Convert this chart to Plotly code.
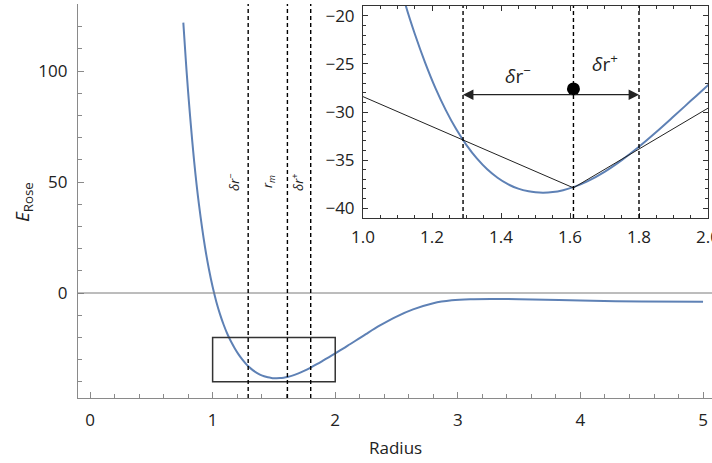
import plotly.graph_objects as go

# Rose energy curve E(r), sampled along the radius
radius = [0.761, 0.78, 0.80, 0.85, 0.889, 0.938, 0.97, 1.00, 1.03, 1.06, 1.09, 1.124,
          1.15, 1.18, 1.21, 1.24, 1.27, 1.30, 1.33, 1.36, 1.39, 1.42, 1.45, 1.48, 1.50,
          1.522, 1.55, 1.58, 1.61, 1.65, 1.70, 1.75, 1.80, 1.85, 1.90, 1.95, 2.00, 2.06,
          2.12, 2.25, 2.365, 2.50, 2.635, 2.80, 2.95, 3.10, 3.30, 3.50, 4.00, 4.50, 5.00]
energy = [121.8, 106.0, 90.7, 59.0, 39.7, 20.6, 10.7, 2.8, -3.9, -9.5, -14.3, -18.93,
          -21.85, -24.85, -27.51, -29.80, -31.78, -33.45, -34.84, -35.97, -36.85, -37.52,
          -37.98, -38.26, -38.36, -38.40, -38.34, -38.14, -37.83, -37.23, -36.23, -35.01,
          -33.62, -32.09, -30.48, -28.84, -27.2, -25.2, -23.1, -18.5, -14.6, -10.6, -7.4,
          -4.6, -3.3, -2.8, -2.7, -2.8, -3.4, -3.8, -3.9]

# Piecewise-linear secants through the marked radii
secant_r = [1.0, 1.61, 2.0]
secant_e = [-28.4, -37.9, -29.6]

# Marked radii: r - dr-, r_m, r + dr+
marks = [1.29, 1.61, 1.80]
mark_labels = ["<i>δr</i><sup>−</sup>", "<i>r<sub>m</sub></i>", "<i>δr</i><sup>+</sup>"]
mark_label_r = [1.166, 1.452, 1.688]
mark_label_e = 50

# Zoom window on the main plot
box_r = [1.0, 2.0]
box_e = [-40.0, -20.0]

# Reference point and arrows in the zoomed view
dot_r, dot_e = 1.61, -27.6
arrow_e = -28.2

W, H = 712, 463
BLUE = "#5E81B5"
AX = "#8a8a8a"
TXT = "#222222"
FONT = "Open Sans"


def fx(p):
    return p / W


def fy(p):
    return 1 - p / H


fig = go.Figure()

fig.add_trace(go.Scatter(x=radius, y=energy, mode="lines",
                         line=dict(color=BLUE, width=2, shape="spline", smoothing=1.0),
                         xaxis="x", yaxis="y", showlegend=False))
fig.add_trace(go.Scatter(x=radius, y=energy, mode="lines",
                         line=dict(color=BLUE, width=2, shape="spline", smoothing=1.0),
                         xaxis="x2", yaxis="y2", showlegend=False))
fig.add_trace(go.Scatter(x=secant_r, y=secant_e, mode="lines",
                         line=dict(color="#222222", width=1),
                         xaxis="x2", yaxis="y2", showlegend=False))
fig.add_trace(go.Scatter(x=[dot_r], y=[dot_e], mode="markers",
                         marker=dict(color="black", size=13),
                         xaxis="x2", yaxis="y2", showlegend=False))

shapes = []
# horizontal zero line
shapes.append(dict(type="line", xref="x domain", yref="y", x0=0, x1=1, y0=0, y1=0,
                   line=dict(color="#7a7a7a", width=1)))
# zoom box
shapes.append(dict(type="rect", xref="x", yref="y", x0=box_r[0], x1=box_r[1],
                   y0=box_e[0], y1=box_e[1], line=dict(color="#333333", width=1.5)))
for m in marks:
    shapes.append(dict(type="line", xref="x", yref="y domain", x0=m, x1=m, y0=0, y1=1,
                       line=dict(color="black", width=1.4, dash="4px,3px")))
    shapes.append(dict(type="line", xref="x2", yref="y2 domain", x0=m, x1=m, y0=0, y1=1,
                       line=dict(color="black", width=1.4, dash="4px,3px")))

annotations = []
for lab, xr in zip(mark_labels, mark_label_r):
    annotations.append(dict(x=xr, y=mark_label_e, xref="x", yref="y", text=lab,
                            showarrow=False, textangle=-90,
                            xanchor="center", yanchor="middle",
                            font=dict(family=FONT, size=13, color=TXT)))
# arrows from the dot to the marked radii
for tip in (marks[0], marks[2]):
    annotations.append(dict(x=tip, y=arrow_e, ax=dot_r, ay=arrow_e, xref="x2", yref="y2",
                            axref="x2", ayref="y2", text="", showarrow=True,
                            arrowhead=2, arrowsize=1.6, arrowwidth=1.3,
                            arrowcolor="#222222", standoff=0, startstandoff=0))
annotations.append(dict(x=1.45, y=-26.1, xref="x2", yref="y2",
                        text="<i>δ</i>r<sup>−</sup>", showarrow=False,
                        xanchor="center", yanchor="middle",
                        font=dict(family=FONT, size=19, color=TXT)))
annotations.append(dict(x=1.70, y=-24.9, xref="x2", yref="y2",
                        text="<i>δ</i>r<sup>+</sup>", showarrow=False,
                        xanchor="center", yanchor="middle",
                        font=dict(family=FONT, size=19, color=TXT)))
# axis titles
annotations.append(dict(x=fx(395), y=fy(447), xref="paper", yref="paper",
                        text="Radius", showarrow=False,
                        xanchor="center", yanchor="middle",
                        font=dict(family=FONT, size=17, color=TXT)))
annotations.append(dict(x=fx(23), y=fy(202), xref="paper", yref="paper",
                        text="<i>E</i><sub>Rose</sub>", showarrow=False, textangle=-90,
                        xanchor="center", yanchor="middle",
                        font=dict(family=FONT, size=19, color=TXT)))

tickfont = dict(family=FONT, size=17, color=TXT)

fig.update_layout(
    width=W, height=H,
    margin=dict(l=0, r=0, t=0, b=0, pad=0, autoexpand=False),
    paper_bgcolor="white", plot_bgcolor="white",
    shapes=shapes, annotations=annotations,
    xaxis=dict(domain=[fx(78), 1.0], range=[-0.098, 5.073], anchor="y", automargin=False,
               showline=True, linecolor=AX, linewidth=1.3, showgrid=False, zeroline=False,
               ticks="inside", ticklen=6, tickwidth=1, tickcolor=AX, tick0=0, dtick=1,
               minor=dict(ticks="inside", dtick=0.2, tick0=0, ticklen=3.5, tickcolor=AX),
               tickfont=tickfont, ticklabelstandoff=6, ticklabeloverflow="allow"),
    yaxis=dict(domain=[fy(398), fy(4)], range=[-47.3, 130.2], anchor="x", automargin=False,
               showline=True, linecolor=AX, linewidth=1.3, showgrid=False, zeroline=False,
               ticks="inside", ticklen=6, tickwidth=1, tickcolor=AX, tick0=0, dtick=50,
               minor=dict(ticks="inside", dtick=10, tick0=0, ticklen=3.5, tickcolor=AX),
               tickfont=tickfont, ticklabelstandoff=6, ticklabeloverflow="allow"),
    xaxis2=dict(domain=[fx(363), fx(708)], range=[1, 2], anchor="y2", automargin=False,
                showline=True, linecolor="#333333", linewidth=1, mirror="allticks",
                showgrid=False, zeroline=False,
                ticks="inside", ticklen=5, tickwidth=1, tickcolor="#333333", tick0=1, dtick=0.2,
                tickformat=".1f",
                minor=dict(ticks="inside", dtick=0.05, tick0=1, ticklen=3, tickcolor="#333333"),
                tickfont=tickfont, ticklabelstandoff=4, ticklabeloverflow="allow"),
    yaxis2=dict(domain=[fy(218), fy(6)], range=[-41.04, -18.96], anchor="x2", automargin=False,
                showline=True, linecolor="#333333", linewidth=1, mirror="allticks",
                showgrid=False, zeroline=False,
                ticks="inside", ticklen=5, tickwidth=1, tickcolor="#333333", tick0=0, dtick=5,
                minor=dict(ticks="inside", dtick=1, tick0=0, ticklen=3, tickcolor="#333333"),
                tickfont=tickfont, ticklabelstandoff=4, ticklabeloverflow="allow"),
)

fig.write_html("out.html")
